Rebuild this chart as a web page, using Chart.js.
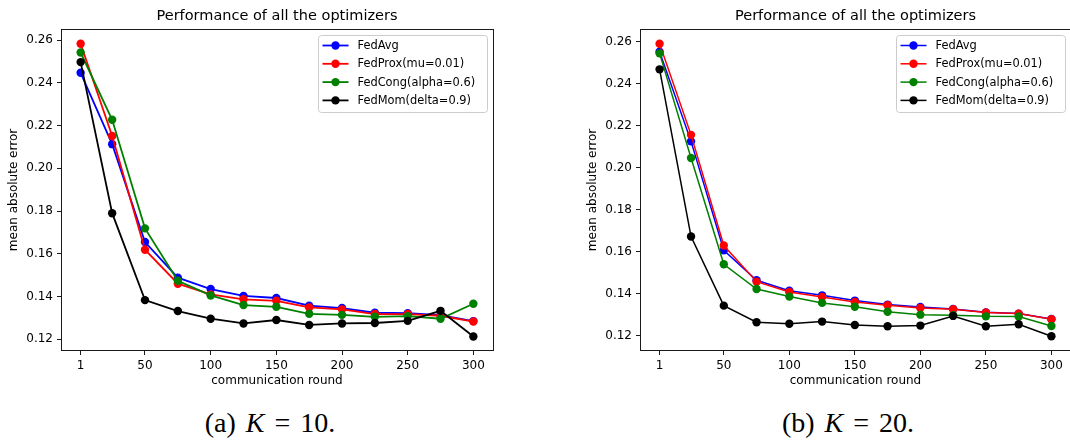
<!DOCTYPE html>
<html>
<head>
<meta charset="utf-8">
<title>Performance of all the optimizers</title>
<script src="https://cdn.jsdelivr.net/npm/chart.js@4.4.1/dist/chart.umd.min.js"></script>
<style>
  html, body { margin: 0; padding: 0; background: #fff; }
  body { width: 1070px; height: 441px; overflow: hidden; position: relative; }
  canvas { position: absolute; top: 0; }
  #chartK10 { left: 0; }
  #chartK20 { left: 579px; }
  .caption {
    position: absolute; top: 407px; width: 300px; text-align: center;
    font-family: "Liberation Serif", serif; font-size: 28px; color: #000;
    word-spacing: 3px;
  }
  #capK10 { left: 120px; }
  #capK20 { left: 698px; }
</style>
</head>
<body>
<canvas id="chartK10" width="540" height="395"></canvas>
<canvas id="chartK20" width="500" height="395"></canvas>
<div class="caption" id="capK10">(a) <i>K</i> = 10.</div>
<div class="caption" id="capK20">(b) <i>K</i> = 20.</div>
<script>
// Data
const rounds = [1, 25, 50, 75, 100, 125, 150, 175, 200, 225, 250, 275, 300];
const xTicks = [1, 50, 100, 150, 200, 250, 300];
const yTicks = [0.12, 0.14, 0.16, 0.18, 0.20, 0.22, 0.24, 0.26];

const seriesNames = ["FedAvg", "FedProx(mu=0.01)", "FedCong(alpha=0.6)", "FedMom(delta=0.9)"];
const seriesColors = ["#0000ff", "#ff0000", "#008000", "#000000"];

// K = 10
const fedAvgK10  = [0.2447, 0.2113, 0.1655, 0.1488, 0.1435, 0.1403, 0.1393, 0.1357, 0.1346, 0.1324, 0.1322, 0.1313, 0.1285];
const fedProxK10 = [0.2583, 0.2151, 0.1619, 0.1460, 0.1410, 0.1387, 0.1380, 0.1349, 0.1340, 0.1318, 0.1318, 0.1310, 0.1283];
const fedCongK10 = [0.2542, 0.2227, 0.1719, 0.1474, 0.1405, 0.1360, 0.1352, 0.1319, 0.1314, 0.1305, 0.1308, 0.1296, 0.1366];
const fedMomK10  = [0.2497, 0.1790, 0.1383, 0.1332, 0.1296, 0.1274, 0.1290, 0.1267, 0.1274, 0.1276, 0.1286, 0.1333, 0.1213];

// K = 20
const fedAvgK20  = [0.2552, 0.2125, 0.1606, 0.1464, 0.1414, 0.1392, 0.1367, 0.1348, 0.1337, 0.1327, 0.1311, 0.1305, 0.1279];
const fedProxK20 = [0.2590, 0.2156, 0.1629, 0.1457, 0.1408, 0.1384, 0.1360, 0.1345, 0.1332, 0.1326, 0.1310, 0.1305, 0.1278];
const fedCongK20 = [0.2544, 0.2046, 0.1540, 0.1422, 0.1386, 0.1356, 0.1338, 0.1314, 0.1300, 0.1297, 0.1292, 0.1291, 0.1246];
const fedMomK20  = [0.2468, 0.1672, 0.1343, 0.1264, 0.1257, 0.1267, 0.1251, 0.1245, 0.1248, 0.1294, 0.1245, 0.1254, 0.1197];

const plotTitle = "Performance of all the optimizers";
const xLabel = "communication round";
const yLabel = "mean absolute error";

Chart.defaults.font.family = "'DejaVu Sans', sans-serif";
Chart.defaults.color = "#000";

// title over the plot area, axes frame on all four sides, legend box in the upper right
const frameAndLegend = {
  id: "frameAndLegend",
  afterDatasetsDraw(chart, args, opts) {
    const { ctx, chartArea: a } = chart;
    ctx.save();

    ctx.fillStyle = "#000";
    ctx.font = "14.5px 'DejaVu Sans'";
    ctx.textAlign = "center";
    ctx.textBaseline = "middle";
    ctx.fillText(opts.title, (a.left + a.right) / 2, 16.5);

    ctx.strokeStyle = "#1a1a1a";
    ctx.lineWidth = 1;
    const l = Math.floor(a.left) + 0.5, t = Math.floor(a.top) + 0.5;
    const r = Math.floor(a.right) + 0.5, b = Math.floor(a.bottom) - 0.5;
    ctx.strokeRect(l, t, r - l, b - t);

    const x0 = Math.floor(a.right - opts.inset - opts.width) + 0.5;
    const y0 = Math.floor(a.top + opts.inset) + 0.5;
    ctx.beginPath();
    ctx.roundRect(x0, y0, opts.width, opts.height, 3);
    ctx.fillStyle = "rgba(255,255,255,0.8)";
    ctx.fill();
    ctx.strokeStyle = "#cccccc";
    ctx.stroke();

    ctx.font = "11.4px 'DejaVu Sans'";
    ctx.textAlign = "left";
    chart.data.datasets.forEach((ds, i) => {
      const cy = y0 + 10 + i * 18.3;
      ctx.strokeStyle = ds.borderColor;
      ctx.lineWidth = ds.borderWidth;
      ctx.beginPath();
      ctx.moveTo(x0 + 4, cy);
      ctx.lineTo(x0 + 30, cy);
      ctx.stroke();
      ctx.fillStyle = ds.borderColor;
      ctx.beginPath();
      ctx.arc(x0 + 17, cy, ds.pointRadius, 0, Math.PI * 2);
      ctx.fill();
      ctx.fillStyle = "#000";
      ctx.fillText(ds.label, x0 + 39, cy + 0.5);
    });
    ctx.restore();
  }
};

function makeChart(canvasId, series, yMin, yMax, lineWidth, padRight) {
  const datasets = series.map((values, i) => ({
    label: seriesNames[i],
    data: rounds.map((r, j) => ({ x: r, y: values[j] })),
    borderColor: seriesColors[i],
    backgroundColor: seriesColors[i],
    borderWidth: lineWidth,
    pointRadius: 4.2,
    pointBorderWidth: 0,
    pointBackgroundColor: seriesColors[i],
    tension: 0,
    order: series.length - i
  }));

  return new Chart(document.getElementById(canvasId), {
    type: "line",
    data: { datasets },
    plugins: [frameAndLegend],
    options: {
      responsive: false,
      animation: false,
      layout: { padding: { left: 0, right: padRight, top: 29, bottom: 0 } },
      plugins: {
        legend: { display: false },
        tooltip: { enabled: false },
        title: { display: false },
        frameAndLegend: { title: plotTitle, inset: 6, width: 169, height: 77 }
      },
      scales: {
        x: {
          type: "linear", min: -13.95, max: 314.95,
          afterBuildTicks: s => { s.ticks = xTicks.map(v => ({ value: v })); },
          afterFit: s => { s.height = 44; },
          ticks: { autoSkip: false, maxRotation: 0, padding: 4, font: { size: 12 }, callback: v => String(v) },
          grid: { drawOnChartArea: false, drawTicks: true, tickLength: 4, color: "#1a1a1a" },
          border: { display: false },
          title: { display: true, text: xLabel, font: { size: 12 }, padding: { top: 0, bottom: 7 } }
        },
        y: {
          type: "linear", min: yMin, max: yMax,
          afterBuildTicks: s => { s.ticks = yTicks.map(v => ({ value: v })); },
          afterFit: s => { s.width = 61; },
          ticks: { autoSkip: false, padding: 4, font: { size: 12 }, callback: v => v.toFixed(2) },
          grid: { drawOnChartArea: false, drawTicks: true, tickLength: 4, color: "#1a1a1a" },
          border: { display: false },
          title: { display: true, text: yLabel, font: { size: 12 }, padding: { top: 7, bottom: 0 } }
        }
      }
    }
  });
}

makeChart("chartK10", [fedAvgK10, fedProxK10, fedCongK10, fedMomK10], 0.1145, 0.2652, 1.8, 47);
makeChart("chartK20", [fedAvgK20, fedProxK20, fedCongK20, fedMomK20], 0.1127, 0.2660, 1.5, 8);
</script>
</body>
</html>
